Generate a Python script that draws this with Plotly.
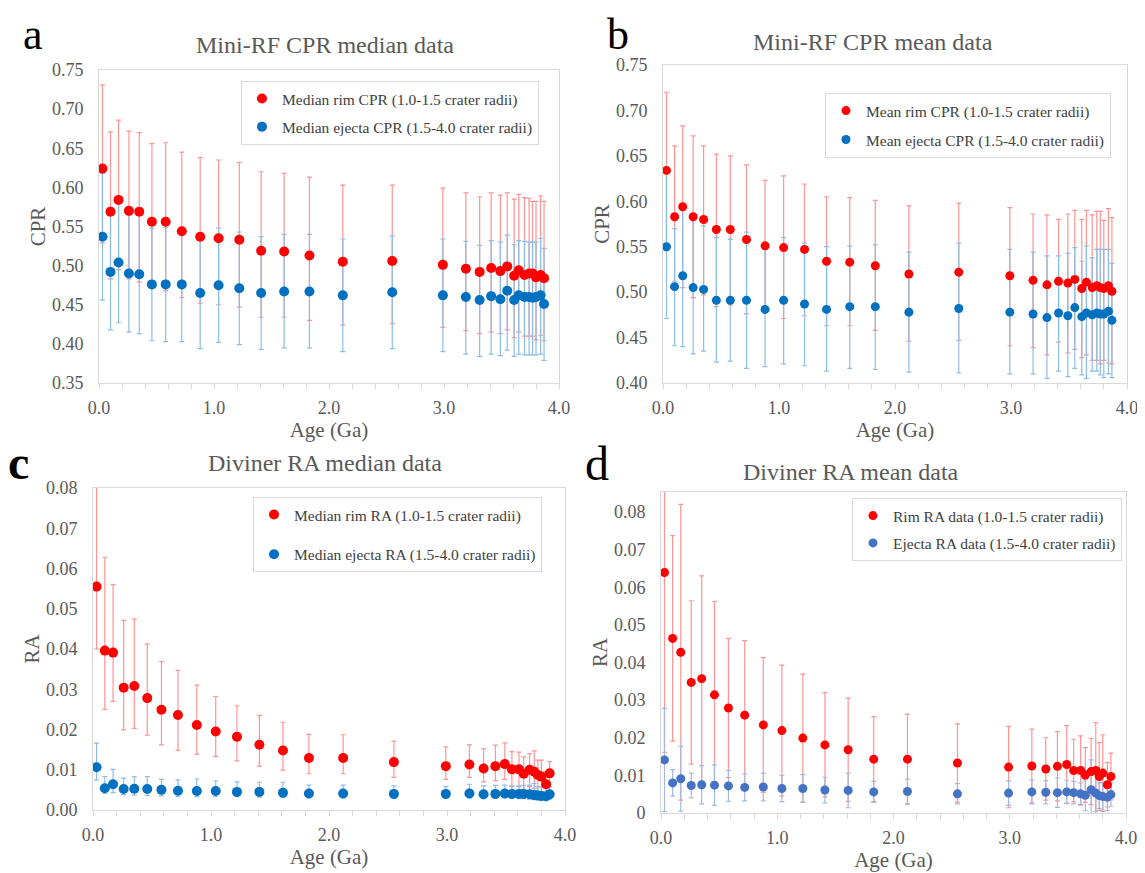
import plotly.graph_objects as go

# ---------------- data ----------------
ages = [0.03, 0.10, 0.17, 0.26, 0.35, 0.46, 0.58, 0.72, 0.88, 1.04, 1.22, 1.41, 1.61, 1.83, 2.12,
        2.55, 2.99, 3.19, 3.31, 3.41, 3.49, 3.55, 3.61, 3.65, 3.70, 3.74, 3.77, 3.80, 3.84, 3.87]

# (a) Mini-RF CPR median
a_rim = [0.624, 0.569, 0.584, 0.570, 0.569, 0.556, 0.556, 0.544, 0.537, 0.535, 0.533, 0.519, 0.518, 0.513, 0.505,
         0.506, 0.501, 0.496, 0.492, 0.497, 0.493, 0.499, 0.487, 0.494, 0.488, 0.490, 0.490, 0.485, 0.488, 0.484]
a_rim_hi = [0.731, 0.671, 0.686, 0.672, 0.670, 0.656, 0.657, 0.645, 0.638, 0.635, 0.632, 0.620, 0.618, 0.613, 0.603,
            0.603, 0.599, 0.593, 0.588, 0.593, 0.590, 0.593, 0.585, 0.591, 0.587, 0.586, 0.582, 0.582, 0.589, 0.582]
a_rim_lo = [0.529, 0.483, 0.495, 0.483, 0.479, 0.471, 0.468, 0.459, 0.452, 0.450, 0.447, 0.434, 0.434, 0.430, 0.424,
            0.426, 0.421, 0.417, 0.413, 0.415, 0.413, 0.418, 0.408, 0.415, 0.410, 0.410, 0.410, 0.405, 0.411, 0.404]
a_ej = [0.537, 0.492, 0.504, 0.490, 0.489, 0.476, 0.476, 0.476, 0.465, 0.475, 0.471, 0.465, 0.467, 0.467, 0.462,
        0.466, 0.462, 0.460, 0.456, 0.461, 0.457, 0.468, 0.456, 0.462, 0.460, 0.460, 0.459, 0.460, 0.462, 0.451]
a_ej_hi = [0.618, 0.566, 0.581, 0.565, 0.565, 0.548, 0.549, 0.549, 0.536, 0.548, 0.543, 0.537, 0.540, 0.540, 0.534,
           0.538, 0.534, 0.531, 0.526, 0.532, 0.530, 0.539, 0.527, 0.532, 0.531, 0.530, 0.530, 0.530, 0.535, 0.522]
a_ej_lo = [0.456, 0.418, 0.427, 0.415, 0.413, 0.404, 0.403, 0.403, 0.394, 0.402, 0.399, 0.393, 0.395, 0.395, 0.390,
           0.394, 0.390, 0.387, 0.384, 0.387, 0.385, 0.392, 0.384, 0.387, 0.386, 0.386, 0.386, 0.386, 0.387, 0.379]

# (b) Mini-RF CPR mean
b_rim = [0.634, 0.583, 0.594, 0.583, 0.580, 0.569, 0.569, 0.558, 0.551, 0.549, 0.547, 0.534, 0.533, 0.529, 0.520,
         0.522, 0.518, 0.513, 0.508, 0.512, 0.510, 0.514, 0.504, 0.511, 0.505, 0.507, 0.505, 0.504, 0.507, 0.501]
b_rim_hi = [0.720, 0.661, 0.683, 0.672, 0.661, 0.652, 0.650, 0.640, 0.623, 0.628, 0.619, 0.605, 0.604, 0.601, 0.595,
            0.598, 0.593, 0.586, 0.585, 0.580, 0.586, 0.590, 0.580, 0.590, 0.585, 0.589, 0.589, 0.579, 0.592, 0.582]
b_rim_lo = [0.553, 0.512, 0.505, 0.494, 0.497, 0.484, 0.486, 0.476, 0.480, 0.471, 0.474, 0.463, 0.463, 0.458, 0.446,
            0.447, 0.441, 0.439, 0.431, 0.445, 0.433, 0.437, 0.428, 0.431, 0.425, 0.425, 0.421, 0.425, 0.422, 0.421]
b_ej = [0.550, 0.506, 0.518, 0.505, 0.503, 0.491, 0.491, 0.491, 0.481, 0.491, 0.487, 0.481, 0.484, 0.484, 0.478,
        0.482, 0.478, 0.476, 0.472, 0.477, 0.474, 0.483, 0.473, 0.477, 0.475, 0.477, 0.476, 0.476, 0.479, 0.469]
b_ej_hi = [0.631, 0.570, 0.596, 0.582, 0.573, 0.560, 0.558, 0.566, 0.549, 0.560, 0.554, 0.550, 0.551, 0.552, 0.544,
           0.554, 0.547, 0.544, 0.540, 0.540, 0.543, 0.549, 0.534, 0.551, 0.538, 0.547, 0.547, 0.547, 0.547, 0.532]
b_ej_lo = [0.471, 0.441, 0.440, 0.432, 0.435, 0.423, 0.424, 0.416, 0.418, 0.421, 0.419, 0.413, 0.416, 0.415, 0.412,
           0.411, 0.410, 0.410, 0.405, 0.413, 0.407, 0.416, 0.409, 0.405, 0.413, 0.413, 0.409, 0.406, 0.410, 0.406]

# (c) Diviner RA median
c_rim = [0.0555, 0.0396, 0.0391, 0.0304, 0.0308, 0.0278, 0.0249, 0.0236, 0.0211, 0.0195, 0.0182, 0.0162, 0.0148, 0.0129, 0.0129,
         0.0119, 0.0109, 0.0113, 0.0103, 0.0109, 0.0114, 0.0101, 0.0101, 0.0090, 0.0100, 0.0095, 0.0087, 0.0083, 0.0064, 0.0091]
c_rim_hi = [0.0900, 0.0628, 0.0560, 0.0471, 0.0474, 0.0412, 0.0369, 0.0347, 0.0310, 0.0282, 0.0259, 0.0235, 0.0218, 0.0188, 0.0187,
            0.0171, 0.0157, 0.0162, 0.0152, 0.0161, 0.0167, 0.0145, 0.0144, 0.0132, 0.0140, 0.0147, 0.0124, 0.0124, 0.0095, 0.0120]
c_rim_lo = [0.0400, 0.0250, 0.0270, 0.0199, 0.0203, 0.0186, 0.0162, 0.0148, 0.0139, 0.0133, 0.0122, 0.0109, 0.0099, 0.0090, 0.0090,
            0.0081, 0.0076, 0.0081, 0.0070, 0.0073, 0.0076, 0.0058, 0.0058, 0.0050, 0.0058, 0.0054, 0.0046, 0.0046, 0.0035, 0.0058]
c_ej = [0.0106, 0.0054, 0.0064, 0.0052, 0.0053, 0.0052, 0.0050, 0.0048, 0.0047, 0.0047, 0.0045, 0.0045, 0.0043, 0.0041, 0.0041,
        0.0040, 0.0040, 0.0041, 0.0039, 0.0040, 0.0041, 0.0040, 0.0040, 0.0040, 0.0039, 0.0037, 0.0036, 0.0035, 0.0034, 0.0039]
c_ej_hi = [0.0166, 0.0083, 0.0101, 0.0079, 0.0083, 0.0083, 0.0076, 0.0075, 0.0077, 0.0072, 0.0070, 0.0069, 0.0069, 0.0062, 0.0062,
           0.0060, 0.0058, 0.0064, 0.0060, 0.0061, 0.0062, 0.0060, 0.0060, 0.0061, 0.0062, 0.0066, 0.0058, 0.0057, 0.0056, 0.0058]
c_ej_lo = [0.0075, 0.0041, 0.0043, 0.0038, 0.0037, 0.0036, 0.0035, 0.0034, 0.0033, 0.0034, 0.0033, 0.0032, 0.0031, 0.0030, 0.0030,
           0.0029, 0.0029, 0.0030, 0.0028, 0.0029, 0.0030, 0.0029, 0.0028, 0.0028, 0.0027, 0.0026, 0.0025, 0.0024, 0.0023, 0.0027]

# (d) Diviner RA mean (symmetric error bars)
d_rim = [0.0639, 0.0464, 0.0427, 0.0347, 0.0357, 0.0314, 0.0279, 0.0260, 0.0234, 0.0219, 0.0199, 0.0181, 0.0168, 0.0143, 0.0143,
         0.0133, 0.0122, 0.0125, 0.0117, 0.0124, 0.0129, 0.0113, 0.0113, 0.0101, 0.0110, 0.0113, 0.0097, 0.0106, 0.0075, 0.0097]
d_rim_err = [0.0478, 0.0273, 0.0393, 0.0217, 0.0273, 0.0248, 0.0185, 0.0198, 0.0179, 0.0174, 0.0170, 0.0139, 0.0137, 0.0113, 0.0120,
             0.0104, 0.0108, 0.0098, 0.0083, 0.0092, 0.0103, 0.0083, 0.0092, 0.0073, 0.0088, 0.0127, 0.0090, 0.0102, 0.0059, 0.0062]
d_ej = [0.0141, 0.0080, 0.0091, 0.0073, 0.0075, 0.0074, 0.0072, 0.0068, 0.0069, 0.0065, 0.0065, 0.0061, 0.0060, 0.0056, 0.0057,
        0.0051, 0.0053, 0.0056, 0.0055, 0.0054, 0.0056, 0.0054, 0.0051, 0.0047, 0.0062, 0.0053, 0.0046, 0.0044, 0.0042, 0.0049]
d_ej_err = [0.0137, 0.0035, 0.0086, 0.0033, 0.0051, 0.0054, 0.0041, 0.0036, 0.0037, 0.0035, 0.0037, 0.0034, 0.0046, 0.0028, 0.0033,
            0.0027, 0.0033, 0.0032, 0.0031, 0.0039, 0.0031, 0.0030, 0.0029, 0.0041, 0.0079, 0.0049, 0.0034, 0.0036, 0.0036, 0.0031]

x_ticks = [0, 1, 2, 3, 4]
x_tick_labels = ["0.0", "1.0", "2.0", "3.0", "4.0"]
a_yticks = [0.35, 0.40, 0.45, 0.50, 0.55, 0.60, 0.65, 0.70, 0.75]
b_yticks = [0.40, 0.45, 0.50, 0.55, 0.60, 0.65, 0.70, 0.75]
c_yticks = [0.00, 0.01, 0.02, 0.03, 0.04, 0.05, 0.06, 0.07, 0.08]
c_ytick_labels = ["0.00", "0.01", "0.02", "0.03", "0.04", "0.05", "0.06", "0.07", "0.08"]
d_yticks = [0, 0.01, 0.02, 0.03, 0.04, 0.05, 0.06, 0.07, 0.08]
d_ytick_labels = ["0", "0.01", "0.02", "0.03", "0.04", "0.05", "0.06", "0.07", "0.08"]

# ---------------- styling ----------------
W, H = 1145, 873
OFF = 8  # page body margin: the figure is drawn 8px in from the top-left corner
FONT = "Liberation Serif, Times New Roman, serif"
GRAY = "#595959"
BORDER = "#D9D9D9"
RED = "#FF0000"
BLUE = "#0070C0"
BLUE_D = "#4472C4"
RED_ERR = "#FF9494"
BLUE_ERR = "#8DBDE6"
BLUE_D_ERR = "#A4B9E2"


def fx(p):
    return (p - OFF) / W


def fy(p):
    return 1 - (p - OFF) / H


fig = go.Figure()


def diff(a, b):
    return [round(u - v, 5) for u, v in zip(a, b)]


panels = [
    dict(n="", leg="legend", xdom=(99, 559), ydom=(70, 383), yr=[0.35, 0.75],
         yt=a_yticks, ytt=[f"{v:.2f}" for v in a_yticks], ytitle="CPR", msize=10,
         series=[("Median rim CPR (1.0-1.5 crater radii)", a_rim, diff(a_rim_hi, a_rim), diff(a_rim, a_rim_lo), RED, RED_ERR),
                 ("Median ejecta CPR (1.5-4.0 crater radii)", a_ej, diff(a_ej_hi, a_ej), diff(a_ej, a_ej_lo), BLUE, BLUE_ERR)],
         lbox=(241, 81), lgap=4.9),
    dict(n="2", leg="legend2", xdom=(663, 1127), ydom=(65, 383), yr=[0.40, 0.75],
         yt=b_yticks, ytt=[f"{v:.2f}" for v in b_yticks], ytitle="CPR", msize=9,
         series=[("Mean rim CPR (1.0-1.5 crater radii)", b_rim, diff(b_rim_hi, b_rim), diff(b_rim, b_rim_lo), RED, RED_ERR),
                 ("Mean ejecta CPR (1.5-4.0 crater radii)", b_ej, diff(b_ej_hi, b_ej), diff(b_ej, b_ej_lo), BLUE, BLUE_ERR)],
         lbox=(825, 93), lgap=5.8),
    dict(n="3", leg="legend3", xdom=(93, 565), ydom=(488, 810), yr=[0, 0.08],
         yt=c_yticks, ytt=c_ytick_labels, ytitle="RA", msize=10,
         series=[("Median rim RA (1.0-1.5 crater radii)", c_rim, diff(c_rim_hi, c_rim), diff(c_rim, c_rim_lo), RED, RED_ERR),
                 ("Median ejecta RA (1.5-4.0 crater radii)", c_ej, diff(c_ej_hi, c_ej), diff(c_ej, c_ej_lo), BLUE, BLUE_ERR)],
         lbox=(253, 497), lgap=16.5),
    dict(n="4", leg="legend4", xdom=(661, 1126), ydom=(492, 813), yr=[0, 0.0853],
         yt=d_yticks, ytt=d_ytick_labels, ytitle="RA", msize=9,
         series=[("Rim RA data (1.0-1.5 crater radii)", d_rim, d_rim_err, d_rim_err, RED, RED_ERR),
                 ("Ejecta RA data (1.5-4.0 crater radii)", d_ej, d_ej_err, d_ej_err, BLUE_D, BLUE_D_ERR)],
         lbox=(852, 498), lgap=4.2),
]

layout = {}
for i, p in enumerate(panels):
    xa = "x" + p["n"]
    ya = "y" + p["n"]
    # error bars of both series first (as in the original), markers drawn on top
    for k, (name, vals, ep, em, col, ecol) in enumerate(p["series"]):
        fig.add_trace(go.Scatter(
            x=ages, y=vals, mode="markers", name=name + " error", showlegend=False, hoverinfo="skip",
            xaxis=xa, yaxis=ya, legend=p["leg"], legendgroup=f"{i}-{k}",
            marker=dict(color="rgba(0,0,0,0)", size=p["msize"], line=dict(width=0)),
            error_y=dict(type="data", symmetric=False, array=ep, arrayminus=em,
                         color=ecol, thickness=1.2, width=2.5),
        ))
    for k, (name, vals, ep, em, col, ecol) in enumerate(p["series"]):
        fig.add_trace(go.Scatter(
            x=ages, y=vals, mode="markers", name=name,
            xaxis=xa, yaxis=ya, legend=p["leg"], legendgroup=f"{i}-{k}",
            marker=dict(color=col, size=p["msize"], line=dict(width=0)),
        ))
    layout["xaxis" + p["n"]] = dict(
        domain=[fx(p["xdom"][0]), fx(p["xdom"][1])], anchor=ya, range=[0, 4],
        tickvals=x_ticks, ticktext=x_tick_labels, ticks="outside", ticklen=5, tickcolor=BORDER,
        minor=dict(dtick=0.2, tick0=0, ticks="outside", ticklen=5, tickcolor=BORDER, showgrid=False),
        showline=True, mirror=True, linecolor=BORDER, linewidth=1, showgrid=False, zeroline=False,
        tickfont=dict(family=FONT, size=18, color=GRAY), ticklabelstandoff=3, automargin=False,
        title=dict(text="Age (Ga)", font=dict(family=FONT, size=21, color=GRAY), standoff=2),
    )
    layout["yaxis" + p["n"]] = dict(
        domain=[fy(p["ydom"][1]), fy(p["ydom"][0])], anchor=xa, range=p["yr"],
        tickvals=p["yt"], ticktext=p["ytt"], ticks="",
        showline=True, mirror=True, linecolor=BORDER, linewidth=1, showgrid=False, zeroline=False,
        tickfont=dict(family=FONT, size=18, color=GRAY), ticklabelstandoff=11, automargin=False,
        title=dict(text=p["ytitle"], font=dict(family=FONT, size=21, color=GRAY), standoff=0),
    )
    layout[p["leg"]] = dict(
        x=fx(p["lbox"][0]), y=fy(p["lbox"][1]), xref="paper", yref="paper",
        xanchor="left", yanchor="top", bgcolor="white", bordercolor=BORDER, borderwidth=1,
        font=dict(family=FONT, size=15.5, color="#404040"), traceorder="grouped",
        tracegroupgap=p["lgap"], itemwidth=30,
    )

annotations = []
# panel letters (top ones anchored at the top edge of the figure so they are not clipped)
for letter, x, y, anchor, bold in [("a", 33, 8, "top", False), ("b", 618, 8, "top", False),
                                   ("c", 18, 462, "middle", True), ("d", 597, 463, "middle", False)]:
    annotations.append(dict(text=f"<b>{letter}</b>" if bold else letter, x=fx(x), y=fy(y), xref="paper", yref="paper",
                            showarrow=False, xanchor="center", yanchor=anchor,
                            font=dict(family=FONT, size=44 if anchor == "top" else 48, color="black")))
# panel titles
for title, x, y in [("Mini-RF CPR median data", 325, 45), ("Mini-RF CPR mean data", 873, 42),
                    ("Diviner RA median data", 325, 463), ("Diviner RA mean data", 851, 472)]:
    annotations.append(dict(text=title, x=fx(x), y=fy(y), xref="paper", yref="paper", showarrow=False,
                            xanchor="center", yanchor="middle", font=dict(family=FONT, size=24, color=GRAY)))

fig.update_layout(
    width=W, height=H, margin=dict(l=0, r=0, t=0, b=0, autoexpand=False),
    paper_bgcolor="white", plot_bgcolor="white",
    showlegend=True, annotations=annotations, **layout,
)

fig.write_html("out.html")
